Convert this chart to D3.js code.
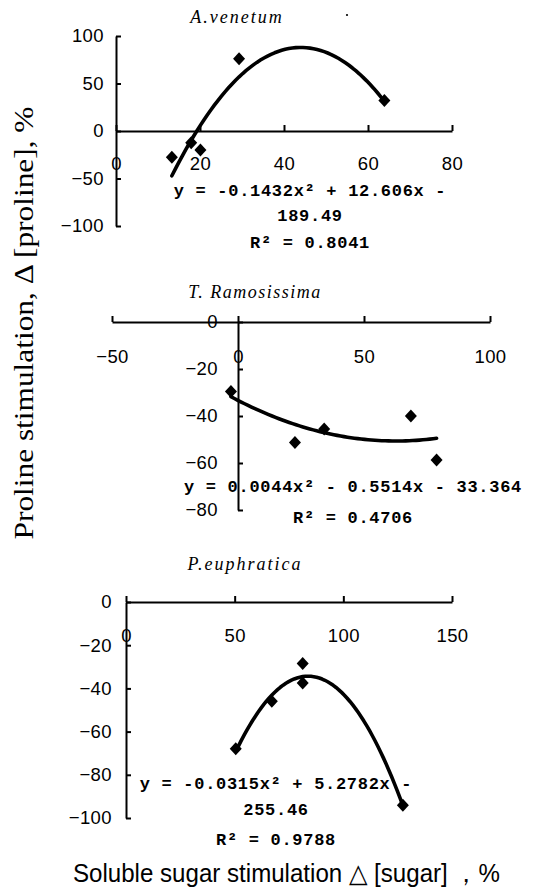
<!DOCTYPE html>
<html>
<head>
<meta charset="utf-8">
<script src="https://cdn.jsdelivr.net/npm/d3@7"></script>
<style>
  html, body { margin: 0; padding: 0; background: #fff; }
  svg { display: block; }
</style>
</head>
<body>
<script>
// ---------------- DATA ----------------
const panelTitles = ["A.venetum", "T. Ramosissima", "P.euphratica"];

// A.venetum
const topX = [13.3, 17.9, 20.1, 29.3, 63.9];
const topY = [-27.7, -12.4, -20, 76, 32.2];
const topCoef = [-0.1432, 12.606, -189.49];
const topXTicks = [0, 20, 40, 60, 80];
const topYTicks = [-100, -50, 0, 50, 100];
const topEq = ["y = -0.1432x² + 12.606x -", "189.49", "R² = 0.8041"];

// T. Ramosissima
const midX = [-2.8, 22.6, 34.2, 68.6, 78.8];
const midY = [-29.6, -51.3, -45.5, -40, -58.7];
const midCoef = [0.0044, -0.5514, -33.364];
const midXTicks = [-50, 0, 50, 100];
const midYTicks = [-80, -60, -40, -20, 0];
const midEq = ["y = 0.0044x² - 0.5514x - 33.364", "R² = 0.4706"];

// P.euphratica
const botX = [50.5, 67.1, 81.3, 81.3, 127.4];
const botY = [-67.9, -46, -28.5, -37.5, -94.1];
const botCoef = [-0.0315, 5.2782, -255.46];
const botXTicks = [0, 50, 100, 150];
const botYTicks = [-100, -80, -60, -40, -20, 0];
const botEq = ["y = -0.0315x² + 5.2782x -", "255.46", "R² = 0.9788"];

const yAxisLabel = "Proline stimulation,  Δ [proline],  %";
const xAxisLabel = "Soluble sugar stimulation △ [sugar] ，%";

// ---------------- DRAW ----------------
const W = 536, H = 891;
const svg = d3.select("body").append("svg").attr("width", W).attr("height", H);

const tickFont = "'Liberation Sans', Arial, sans-serif";
const eqFont = "'Liberation Mono', 'DejaVu Sans Mono', monospace";
const titleFont = "'Liberation Serif', 'Times New Roman', serif";

const diamond = (cx, cy) => `M${cx},${cy-6.5}L${cx+6},${cy}L${cx},${cy+6.5}L${cx-6},${cy}Z`;

function panel(cfg) {
  const x = d3.scaleLinear().domain(cfg.xDomain).range(cfg.xRange);
  const y = d3.scaleLinear().domain(cfg.yDomain).range(cfg.yRange);
  const g = svg.append("g");

  // title
  g.append("text")
    .attr("x", cfg.titleX).attr("y", cfg.titleY)
    .attr("text-anchor", "middle")
    .style("font-family", titleFont).style("font-style", "italic")
    .style("font-size", "18px").style("letter-spacing", cfg.titleSpacing + "px")
    .text(cfg.title);

  // y axis
  const ya = g.append("g").attr("transform", `translate(${x(0)},0)`)
    .call(d3.axisLeft(y).tickValues(cfg.yTicks).tickSizeInner(-5).tickSizeOuter(0)
      .tickPadding(cfg.yPad).tickFormat(d => d3.format("d")(d).replace("-", "−")));
  // x axis
  const xa = g.append("g").attr("transform", `translate(0,${y(0)})`)
    .call(d3.axisBottom(x).tickValues(cfg.xTicks).tickSizeInner(-6).tickSizeOuter(0)
      .tickPadding(cfg.xPad).tickFormat(d => d3.format("d")(d)));

  [ya, xa].forEach(a => {
    a.selectAll("path, line").attr("stroke", "#000").attr("stroke-width", 2);
    a.selectAll("text").attr("fill", "#000")
      .style("font-family", tickFont).style("font-size", "18.5px")
      .style("letter-spacing", "0.4px");
  });

  // trendline
  const [a2, a1, a0] = cfg.coef;
  const ext = d3.extent(cfg.xs);
  const n = 60;
  const pts = d3.range(n + 1).map(i => {
    const xv = ext[0] + (ext[1] - ext[0]) * i / n;
    return [xv, a2 * xv * xv + a1 * xv + a0];
  });
  g.append("path")
    .attr("d", d3.line().x(d => x(d[0])).y(d => y(d[1]))(pts))
    .attr("fill", "none").attr("stroke", "#000")
    .attr("stroke-width", 3.6).attr("stroke-linejoin", "round").attr("stroke-linecap", "round");

  // points
  g.selectAll("path.pt").data(cfg.xs.map((v, i) => [v, cfg.ys[i]]))
    .enter().append("path").attr("class", "pt")
    .attr("d", d => diamond(x(d[0]), y(d[1])))
    .attr("fill", "#000");

  // equation
  cfg.eq.forEach((line, i) => {
    g.append("text")
      .attr("x", cfg.eqX).attr("y", cfg.eqY[i])
      .attr("text-anchor", "middle")
      .style("font-family", eqFont).style("font-weight", "bold")
      .style("font-size", "17px").style("letter-spacing", "0.7px")
      .text(line);
  });
}

panel({
  title: panelTitles[0], titleX: 237, titleY: 23, titleSpacing: 2,
  xDomain: [0, 80], xRange: [116, 452], yDomain: [-100, 100], yRange: [226, 36],
  xTicks: topXTicks, yTicks: topYTicks, xPad: 26, yPad: 12,
  xs: topX, ys: topY, coef: topCoef,
  eq: topEq, eqX: 310, eqY: [196, 221, 248]
});

panel({
  title: panelTitles[1], titleX: 255, titleY: 298, titleSpacing: 1.5,
  xDomain: [-50, 100], xRange: [112, 490], yDomain: [-80, 0], yRange: [510, 322],
  xTicks: midXTicks, yTicks: midYTicks, xPad: 28, yPad: 20,
  xs: midX, ys: midY, coef: midCoef,
  eq: midEq, eqX: 353, eqY: [492, 523]
});

panel({
  title: panelTitles[2], titleX: 245, titleY: 570, titleSpacing: 2,
  xDomain: [0, 150], xRange: [126, 452], yDomain: [-100, 0], yRange: [818, 602],
  xTicks: botXTicks, yTicks: botYTicks, xPad: 27, yPad: 14,
  xs: botX, ys: botY, coef: botCoef,
  eq: botEq, eqX: 276, eqY: [789, 815, 845]
});

// small stray dot near top
svg.append("circle").attr("cx", 347).attr("cy", 15).attr("r", 1.1).attr("fill", "#000");

// Y axis label
svg.append("text")
  .attr("transform", "translate(33,323) rotate(-90)")
  .attr("text-anchor", "middle")
  .attr("textLength", 433).attr("lengthAdjust", "spacingAndGlyphs")
  .style("font-family", titleFont).style("font-size", "27px")
  .text(yAxisLabel);

// X axis label
svg.append("text")
  .attr("x", 73).attr("y", 882)
  .attr("textLength", 427).attr("lengthAdjust", "spacingAndGlyphs")
  .style("font-family", tickFont).style("font-size", "26px")
  .text(xAxisLabel);
</script>
</body>
</html>
